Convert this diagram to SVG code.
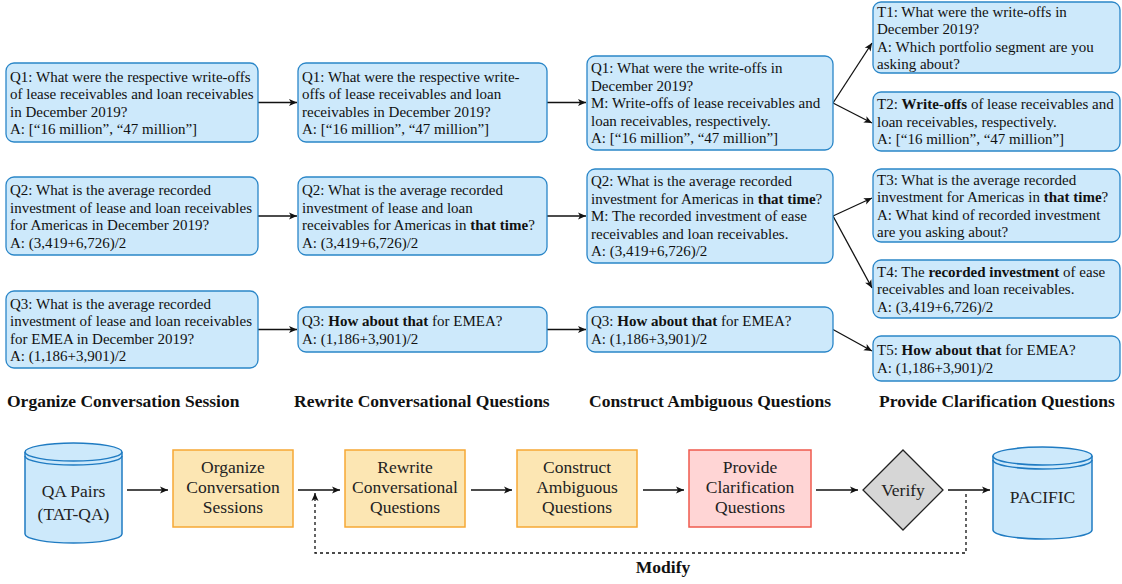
<svg xmlns="http://www.w3.org/2000/svg" width="1122" height="584" viewBox="0 0 1122 584">
<style>
.box{fill:#cde9fb;stroke:#2a86c8;stroke-width:1.3}
.t{font-size:15px;fill:#111}
.b{font-weight:bold}
.h{font-size:17.5px;font-weight:bold;fill:#111}
.f{font-size:17.5px;fill:#222;text-anchor:middle}
.org{fill:#fce6b3;stroke:#f6a835;stroke-width:1.5}
.red{fill:#ffd5d5;stroke:#ef5a4d;stroke-width:1.5}
.cyl{fill:#cde9fb;stroke:#1f7bc2;stroke-width:1.5}
.e{fill:none;stroke:#111;stroke-width:1.3}
</style>
<defs>
<marker id="ah" markerWidth="9" markerHeight="8" refX="8" refY="4" orient="auto" markerUnits="userSpaceOnUse">
<path d="M0,0.5 L8,4 L0,7.5 L2,4 z" fill="#111"/>
</marker>
</defs>
<g font-family="Liberation Serif, Tinos, Times New Roman, DejaVu Serif, serif">
<g id="edges">
<line class="e" x1="258" y1="102.5" x2="297" y2="102.5" marker-end="url(#ah)"/>
<line class="e" x1="258" y1="216" x2="297" y2="216" marker-end="url(#ah)"/>
<line class="e" x1="258" y1="329.5" x2="297" y2="329.5" marker-end="url(#ah)"/>
<line class="e" x1="547" y1="102.5" x2="586" y2="102.5" marker-end="url(#ah)"/>
<line class="e" x1="547" y1="216" x2="586" y2="216" marker-end="url(#ah)"/>
<line class="e" x1="547" y1="329.5" x2="586" y2="329.5" marker-end="url(#ah)"/>
<line class="e" x1="833" y1="103" x2="872" y2="43" marker-end="url(#ah)"/>
<line class="e" x1="833" y1="103" x2="872" y2="123" marker-end="url(#ah)"/>
<line class="e" x1="833" y1="216" x2="872" y2="198" marker-end="url(#ah)"/>
<line class="e" x1="833" y1="216" x2="872" y2="288" marker-end="url(#ah)"/>
<line class="e" x1="833" y1="329.5" x2="872" y2="351" marker-end="url(#ah)"/>
<line class="e" x1="127" y1="490" x2="168" y2="490" marker-end="url(#ah)"/>
<line class="e" x1="298" y1="490" x2="340" y2="490" marker-end="url(#ah)"/>
<line class="e" x1="471" y1="490" x2="512" y2="490" marker-end="url(#ah)"/>
<line class="e" x1="643" y1="490" x2="684" y2="490" marker-end="url(#ah)"/>
<line class="e" x1="816" y1="490" x2="858" y2="490" marker-end="url(#ah)"/>
<line class="e" x1="948" y1="490" x2="990" y2="490" marker-end="url(#ah)"/>
<path class="e" d="M966,494 V553 H315 V493" stroke-dasharray="3,3" marker-end="url(#ah)"/>
<text class="h" x="663" y="573" text-anchor="middle">Modify</text>
</g>

<g id="c1q1">
<rect class="box" x="6" y="63" width="252" height="79" rx="8"/>
<text class="t"><tspan x="10" y="81.5">Q1: What were the respective write-offs</tspan><tspan x="10" y="99">of lease receivables and loan receivables</tspan><tspan x="10" y="116.5">in December 2019?</tspan><tspan x="10" y="134">A: [“16 million”, “47 million”]</tspan></text>
</g>
<g id="c1q2">
<rect class="box" x="6" y="177" width="252" height="78" rx="8"/>
<text class="t"><tspan x="10" y="195">Q2: What is the average recorded</tspan><tspan x="10" y="212.5">investment of lease and loan receivables</tspan><tspan x="10" y="230">for Americas in December 2019?</tspan><tspan x="10" y="247.5">A: (3,419+6,726)/2</tspan></text>
</g>
<g id="c1q3">
<rect class="box" x="6" y="291" width="252" height="77" rx="8"/>
<text class="t"><tspan x="10" y="308.5">Q3: What is the average recorded</tspan><tspan x="10" y="326">investment of lease and loan receivables</tspan><tspan x="10" y="343.5">for EMEA in December 2019?</tspan><tspan x="10" y="361">A: (1,186+3,901)/2</tspan></text>
</g>

<g id="c2q1">
<rect class="box" x="298" y="63" width="249" height="79" rx="8"/>
<text class="t"><tspan x="302" y="81.5">Q1: What were the respective write-</tspan><tspan x="302" y="99">offs of lease receivables and loan</tspan><tspan x="302" y="116.5">receivables in December 2019?</tspan><tspan x="302" y="134">A: [“16 million”, “47 million”]</tspan></text>
</g>
<g id="c2q2">
<rect class="box" x="298" y="177" width="249" height="78" rx="8"/>
<text class="t"><tspan x="302" y="195">Q2: What is the average recorded</tspan><tspan x="302" y="212.5">investment of lease and loan</tspan><tspan x="302" y="230">receivables for Americas in <tspan class="b">that time</tspan>?</tspan><tspan x="302" y="247.5">A: (3,419+6,726)/2</tspan></text>
</g>
<g id="c2q3">
<rect class="box" x="298" y="307" width="249" height="45" rx="8"/>
<text class="t"><tspan x="302" y="326"><tspan>Q3: </tspan><tspan class="b">How about that</tspan><tspan> for EMEA?</tspan></tspan><tspan x="302" y="343.5">A: (1,186+3,901)/2</tspan></text>
</g>

<g id="c3q1">
<rect class="box" x="587" y="56" width="246" height="94" rx="8"/>
<text class="t"><tspan x="591" y="73">Q1: What were the write-offs in</tspan><tspan x="591" y="90.5">December 2019?</tspan><tspan x="591" y="108">M: Write-offs of lease receivables and</tspan><tspan x="591" y="125.5">loan receivables, respectively.</tspan><tspan x="591" y="143">A: [“16 million”, “47 million”]</tspan></text>
</g>
<g id="c3q2">
<rect class="box" x="587" y="169" width="246" height="94" rx="8"/>
<text class="t"><tspan x="591" y="186">Q2: What is the average recorded</tspan><tspan x="591" y="203.5">investment for Americas in <tspan class="b">that time</tspan>?</tspan><tspan x="591" y="221">M: The recorded investment of ease</tspan><tspan x="591" y="238.5">receivables and loan receivables.</tspan><tspan x="591" y="256">A: (3,419+6,726)/2</tspan></text>
</g>
<g id="c3q3">
<rect class="box" x="587" y="307" width="246" height="45" rx="8"/>
<text class="t"><tspan x="591" y="326"><tspan>Q3: </tspan><tspan class="b">How about that</tspan><tspan> for EMEA?</tspan></tspan><tspan x="591" y="343.5">A: (1,186+3,901)/2</tspan></text>
</g>

<g id="t1">
<rect class="box" x="873" y="2" width="247" height="71" rx="8"/>
<text class="t"><tspan x="877" y="16.5">T1: What were the write-offs in</tspan><tspan x="877" y="34">December 2019?</tspan><tspan x="877" y="51.5">A: Which portfolio segment are you</tspan><tspan x="877" y="69">asking about?</tspan></text>
</g>
<g id="t2">
<rect class="box" x="873" y="92" width="247" height="59" rx="8"/>
<text class="t"><tspan x="877" y="109"><tspan>T2: </tspan><tspan class="b">Write-offs</tspan><tspan> of lease receivables and</tspan></tspan><tspan x="877" y="126.5">loan receivables, respectively.</tspan><tspan x="877" y="144">A: [“16 million”, “47 million”]</tspan></text>
</g>
<g id="t3">
<rect class="box" x="873" y="169" width="247" height="73" rx="8"/>
<text class="t"><tspan x="877" y="184.5">T3: What is the average recorded</tspan><tspan x="877" y="202">investment for Americas in <tspan class="b">that time</tspan>?</tspan><tspan x="877" y="219.5">A: What kind of recorded investment</tspan><tspan x="877" y="237">are you asking about?</tspan></text>
</g>
<g id="t4">
<rect class="box" x="873" y="260" width="247" height="58" rx="8"/>
<text class="t"><tspan x="877" y="276.5"><tspan>T4: The </tspan><tspan class="b">recorded investment</tspan><tspan> of ease</tspan></tspan><tspan x="877" y="294">receivables and loan receivables.</tspan><tspan x="877" y="311.5">A: (3,419+6,726)/2</tspan></text>
</g>
<g id="t5">
<rect class="box" x="873" y="336" width="247" height="45" rx="8"/>
<text class="t"><tspan x="877" y="355"><tspan>T5: </tspan><tspan class="b">How about that</tspan><tspan> for EMEA?</tspan></tspan><tspan x="877" y="372.5">A: (1,186+3,901)/2</tspan></text>
</g>

<g id="titles">
<text class="h" x="7" y="407">Organize Conversation Session</text>
<text class="h" x="294" y="407">Rewrite Conversational Questions</text>
<text class="h" x="589" y="407">Construct Ambiguous Questions</text>
<text class="h" x="879" y="407">Provide Clarification Questions</text>
</g>

<g id="qa">
<path class="cyl" d="M25,452 V534 A48.5,9 0 0 0 122,534 V452"/>
<ellipse class="cyl" cx="73.5" cy="452" rx="48.5" ry="9"/>
<path class="cyl" style="fill:none" d="M25,456 A48.5,9 0 0 0 122,456"/>
<text class="f"><tspan x="73.5" y="497">QA Pairs</tspan><tspan x="73.5" y="520">(TAT-QA)</tspan></text>
</g>
<g id="organize">
<rect class="org" x="173" y="450" width="120" height="77"/>
<text class="f"><tspan x="233" y="473">Organize</tspan><tspan x="233" y="493">Conversation</tspan><tspan x="233" y="513">Sessions</tspan></text>
</g>
<g id="rewrite">
<rect class="org" x="345" y="450" width="120" height="77"/>
<text class="f"><tspan x="405" y="473">Rewrite</tspan><tspan x="405" y="493">Conversational</tspan><tspan x="405" y="513">Questions</tspan></text>
</g>
<g id="construct">
<rect class="org" x="517" y="450" width="120" height="77"/>
<text class="f"><tspan x="577" y="473">Construct</tspan><tspan x="577" y="493">Ambiguous</tspan><tspan x="577" y="513">Questions</tspan></text>
</g>
<g id="provide">
<rect class="red" x="689" y="450" width="122" height="77"/>
<text class="f"><tspan x="750" y="473">Provide</tspan><tspan x="750" y="493">Clarification</tspan><tspan x="750" y="513">Questions</tspan></text>
</g>
<g id="verify">
<path d="M903,450 L943,490 L903,530 L863,490 Z" fill="#d6d6d6" stroke="#222" stroke-width="1.3"/>
<text class="f" x="903" y="496">Verify</text>
</g>
<g id="pacific">
<path class="cyl" d="M993,456 V530 A49.5,9 0 0 0 1092,530 V456"/>
<ellipse class="cyl" cx="1042.5" cy="456" rx="49.5" ry="9"/>
<path class="cyl" style="fill:none" d="M993,460 A49.5,9 0 0 0 1092,460"/>
<text class="f" x="1042.5" y="503">PACIFIC</text>
</g>
</g>
</svg>
